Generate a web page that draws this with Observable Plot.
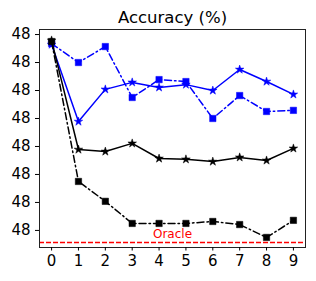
<!DOCTYPE html>
<html><head><meta charset="utf-8">
<script src="https://cdn.jsdelivr.net/npm/d3@7"></script>
<script src="https://cdn.jsdelivr.net/npm/@observablehq/plot@0.6"></script>
<style>
body{margin:0;background:#fff;font-family:"DejaVu Sans",sans-serif;}
</style>
</head><body><div id="chart"></div>
<script>
const steps = [0,1,2,3,4,5,6,7,8,9];
const blueStar   = [48.0664,48.0389,48.0504,48.0529,48.0511,48.0521,48.0500,48.0575,48.0532,48.0486];
const blueSquare = [48.0668,48.0600,48.0657,48.0475,48.0539,48.0532,48.0400,48.0482,48.0425,48.0429];
const blackStar  = [48.0679,48.0289,48.0282,48.0311,48.0257,48.0254,48.0246,48.0261,48.0250,48.0293];
const blackSquare= [48.0675,48.0175,48.0104,48.0025,48.0025,48.0025,48.0032,48.0021,47.9975,48.0036];
const oracle = 47.9957;
const yTicks = [48.00,48.01,48.02,48.03,48.04,48.05,48.06,48.07];
const yTickLabels = ["48","48","48","48","48","48","48","48"];
const title = "Accuracy (%)";

const mk = arr => steps.map((s,i)=>({x:s,y:arr[i]}));
const series = [
  {data: mk(blueStar), color:"#0000ff", dash:null, symbol:"star"},
  {data: mk(blueSquare), color:"#0000ff", dash:"7,3,1.5,3", symbol:"square"},
  {data: mk(blackStar), color:"#000000", dash:null, symbol:"star"},
  {data: mk(blackSquare), color:"#000000", dash:"7,3,1.5,3", symbol:"square"},
];
const marks = [
  Plot.ruleY([oracle], {stroke:"#ff0000", strokeWidth:1.5, strokeDasharray:"5,2"}),
  Plot.text([{x:4.5,y:oracle}], {x:"x", y:"y", text:()=>"Oracle", fill:"#ff0000", fontSize:12, dy:-8}),
];
for (const s of series) {
  marks.push(Plot.line(s.data, {x:"x", y:"y", stroke:s.color, strokeWidth:1.5, strokeDasharray:s.dash}));
  marks.push(Plot.dot(s.data, {x:"x", y:"y", symbol:()=>s.symbol, fill:s.color, stroke:s.color, r: s.symbol==="square"?3.6:2.7, strokeWidth:0.5}));
}
marks.push(Plot.frame({stroke:"#222", strokeWidth:1}));
marks.push(Plot.axisY({ticks:yTicks, tickFormat:(d,i)=>yTickLabels[i], tickSize:4, tickPadding:5, fontSize:15, fill:"#000", label:null}));
marks.push(Plot.axisX({ticks:steps, tickFormat:d=>String(d), tickSize:3.5, tickPadding:4, fontSize:15, fill:"#000", label:null}));
marks.push(Plot.text([title], {frameAnchor:"top", text:d=>d, dy:-18, fontSize:16.5, fill:"#000"}));

const plot = Plot.plot({
  width:316, height:281,
  marginLeft:39, marginRight:11, marginTop:29, marginBottom:34,
  style:{fontFamily:"DejaVu Sans", background:"#fff"},
  x:{domain:[-0.45,9.45]},
  y:{domain:[47.9939,48.0718]},
  symbol:{type:"identity"},
  marks
});
document.getElementById("chart").appendChild(plot);
</script></body></html>
